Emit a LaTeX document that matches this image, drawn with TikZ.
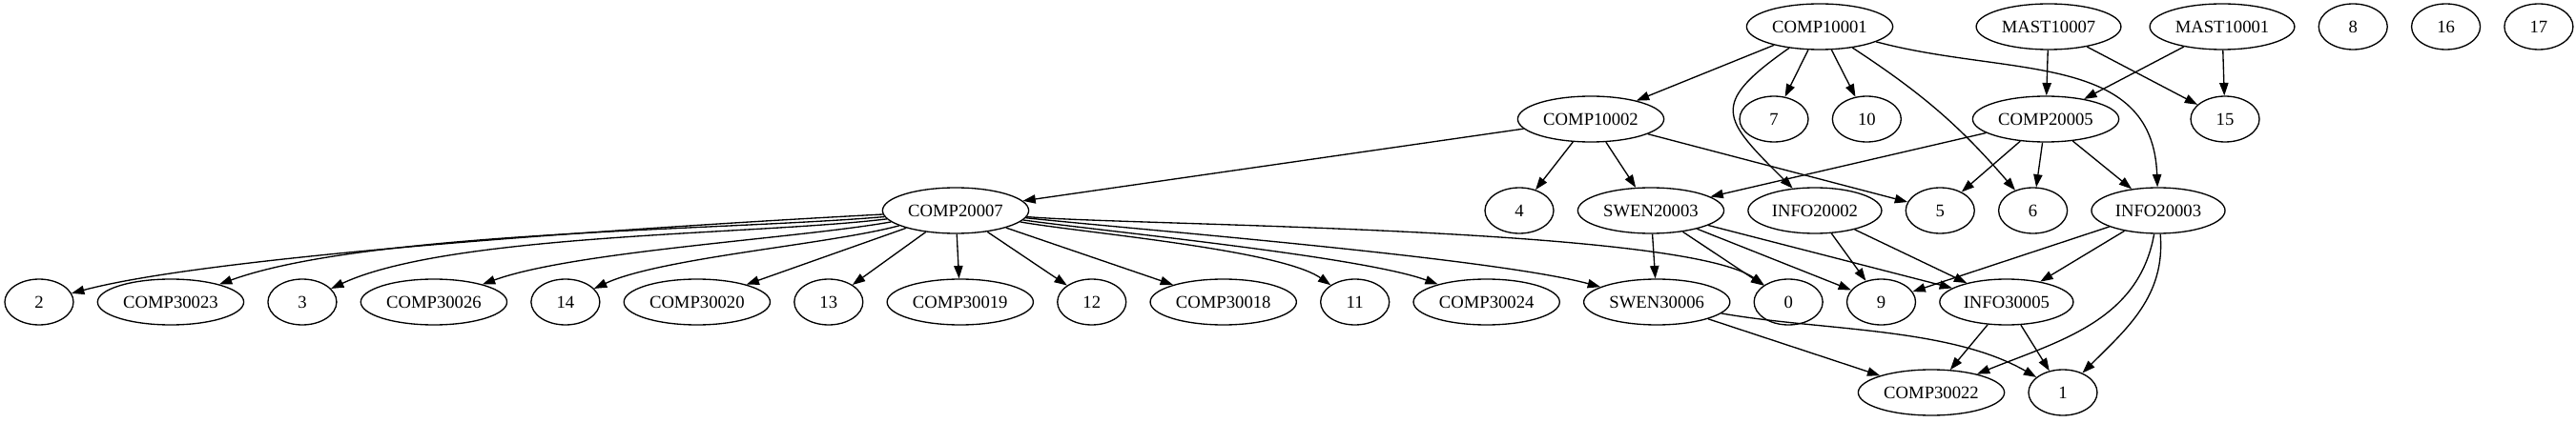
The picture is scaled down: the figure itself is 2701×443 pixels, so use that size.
\documentclass[tikz,border=0pt]{standalone}
\usepackage{fontspec}
\setmainfont{Liberation Serif}
\usetikzlibrary{positioning,shapes.geometric,arrows.meta}

\let\nodegap\relax
\let\rankone\relax
\let\ranktwo\relax
\let\rankthree\relax
\let\rankfour\relax
\let\rankfive\relax
\newcommand{\nodegap}{18pt}
\newcommand{\rankone}{415}
\newcommand{\ranktwo}{318}
\newcommand{\rankthree}{222}
\newcommand{\rankfour}{126}
\newcommand{\rankfive}{31}
\tikzstyle{subj}=[draw=black,text=black,shape=ellipse,
                  font=\fontsize{14}{16}\selectfont,
                  inner xsep=3.3pt,inner ysep=2pt,
                  minimum width=54pt,minimum height=36pt]

\begin{document}
\begin{tikzpicture}[x=0.75pt,y=0.75pt,line width=1pt,>={Triangle[length=10pt,width=7pt]}]
\useasboundingbox (0,0) rectangle (2701,443);

\node [subj] (c10001) at (1908,\rankone) {COMP10001};
\node [subj] (m10007) at (2148,\rankone) {MAST10007};
\node [subj] (m10001) at (2330,\rankone) {MAST10001};
\node [subj, right= \nodegap of m10001] (n8) {8};
\node [subj, right= \nodegap of n8] (n16) {16};
\node [subj, right= \nodegap of n16] (n17) {17};

\node [subj] (c10002) at (1668,\ranktwo) {COMP10002};
\node [subj] (n7) at (1860,\ranktwo) {7};
\node [subj, right= \nodegap of n7] (n10) {10};
\node [subj] (c20005) at (2145,\ranktwo) {COMP20005};
\node [subj] (n15) at (2333,\ranktwo) {15};

\node [subj] (c20007) at (1002,\rankthree) {COMP20007};
\node [subj] (n4) at (1593,\rankthree) {4};
\node [subj, right= \nodegap of n4] (s20003) {SWEN20003};
\node [subj, right= \nodegap of s20003] (i20002) {INFO20002};
\node [subj, right= \nodegap of i20002] (n5) {5};
\node [subj, right= \nodegap of n5] (n6) {6};
\node [subj, right= \nodegap of n6] (i20003) {INFO20003};

\node [subj] (n2) at (41,\rankfour) {2};
\node [subj, right= \nodegap of n2] (c30023) {COMP30023};
\node [subj, right= \nodegap of c30023] (n3) {3};
\node [subj, right= \nodegap of n3] (c30026) {COMP30026};
\node [subj, right= \nodegap of c30026] (n14) {14};
\node [subj, right= \nodegap of n14] (c30020) {COMP30020};
\node [subj, right= \nodegap of c30020] (n13) {13};
\node [subj, right= \nodegap of n13] (c30019) {COMP30019};
\node [subj, right= \nodegap of c30019] (n12) {12};
\node [subj, right= \nodegap of n12] (c30018) {COMP30018};
\node [subj, right= \nodegap of c30018] (n11) {11};
\node [subj, right= \nodegap of n11] (c30024) {COMP30024};
\node [subj, right= \nodegap of c30024] (s30006) {SWEN30006};
\node [subj, right= \nodegap of s30006] (n0) {0};
\node [subj, right= \nodegap of n0] (n9) {9};
\node [subj, right= \nodegap of n9] (i30005) {INFO30005};

\node [subj] (c30022) at (2025,\rankfive) {COMP30022};
\node [subj, right= \nodegap of c30022] (n1) {1};

% first year
\draw [->] (c10001) -- (c10002);
\draw [->] (c10001) -- (n7);
\draw [->] (c10001) -- (n10);
\draw [->] (c10001) to[out=-145,in=135,looseness=1.8] (i20002);
\draw [->] (c10001) to[bend left=8] (n6);
\draw [->] (c10001) to[out=-15,in=92,looseness=1.1] (i20003);
\draw [->] (m10007) -- (c20005);
\draw [->] (m10007) -- (n15);
\draw [->] (m10001) -- (c20005);
\draw [->] (m10001) -- (n15);

% second year
\draw [->] (c10002) -- (c20007);
\draw [->] (c10002) -- (n4);
\draw [->] (c10002) -- (s20003);
\draw [->] (c10002) -- (n5);
\draw [->] (c20005) -- (s20003);
\draw [->] (c20005) -- (n5);
\draw [->] (c20005) -- (n6);
\draw [->] (c20005) -- (i20003);

% COMP20007 fan
\draw [->] (c20007) to[out=183,in=15,looseness=0.5] (n2);
\draw [->] (c20007) to[out=185,in=20,looseness=0.6] (c30023);
\draw [->] (c20007) to[out=187,in=25,looseness=0.6] (n3);
\draw [->] (c20007) to[out=190,in=20,looseness=0.6] (c30026);
\draw [->] (c20007) to[out=195,in=25,looseness=0.6] (n14);
\draw [->] (c20007) -- (c30020);
\draw [->] (c20007) -- (n13);
\draw [->] (c20007) -- (c30019);
\draw [->] (c20007) -- (n12);
\draw [->] (c20007) -- (c30018);
\draw [->] (c20007) to[out=-10,in=145,looseness=0.5] (n11);
\draw [->] (c20007) to[out=-8,in=160,looseness=0.5] (c30024);
\draw [->] (c20007) to[out=-6,in=165,looseness=0.5] (s30006);
\draw [->] (c20007) to[out=-5,in=145,looseness=0.35] (n0);

% third year
\draw [->] (s20003) -- (s30006);
\draw [->] (s20003) -- (n0);
\draw [->] (s20003) -- (n9);
\draw [->] (s20003) -- (i30005);
\draw [->] (i20002) -- (n9);
\draw [->] (i20002) -- (i30005);
\draw [->] (i20003) -- (n9);
\draw [->] (i20003) -- (i30005);
\draw [->] (i20003) to[out=-100,in=22] (c30022);
\draw [->] (i20003) to[out=-85,in=45] (n1);
\draw [->] (s30006) -- (c30022);
\draw [->] (s30006) to[out=-10,in=150,looseness=0.8] (n1);
\draw [->] (i30005) -- (c30022);
\draw [->] (i30005) -- (n1);
\end{tikzpicture}
\end{document}
